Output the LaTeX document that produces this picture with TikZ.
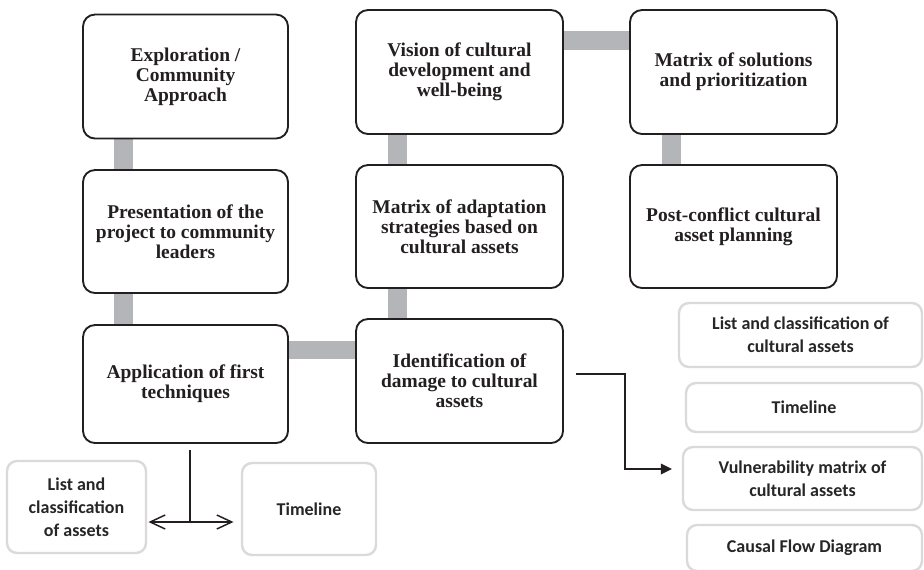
\documentclass[tikz,border=0pt]{standalone}
\usepackage{fontspec}
\newfontfamily\stagefont{Liberation Serif}[BoldFont={Liberation Serif Bold}]
\newfontfamily\toolfont{Carlito}
\usepackage{xcolor}
\usetikzlibrary{calc,backgrounds}
\definecolor{barGrey}{RGB}{180,181,184}
\definecolor{toolGrey}{RGB}{218,218,218}
\definecolor{inkBlack}{RGB}{35,31,32}

\begin{document}
\begin{tikzpicture}[x=0.75pt,y=0.75pt,yscale=-1,xscale=1,
  stagebox/.style={draw=inkBlack, line width=1.4pt, rounded corners=9pt, fill=white,
    align=center, text=inkBlack, font=\stagefont\fontsize{14.6}{15}\selectfont\bfseries,
    minimum width=153.75pt, minimum height=93pt, inner sep=2pt},
  toolbox/.style={draw=toolGrey, line width=1.8pt, rounded corners=7.5pt, fill=white,
    align=center, text=black!85, font=\toolfont\fontsize{13.5}{17.3}\selectfont\bfseries, inner sep=2pt},
  link/.style={draw=barGrey, line width=14pt},
  flow/.style={draw=inkBlack, line width=1.1pt}]

\clip (0,0) rectangle (924,569);

% stages
\node[stagebox] (expl) at (185.5,76.5) {Exploration /\\Community\\Approach};
\node[stagebox, minimum height=92.25pt] (pres) at (185.5,231.5) {Presentation of the\\project to community\\leaders};
\node[stagebox, minimum height=88.5pt] (appl) at (185.5,384) {Application of first\\techniques};
\node[stagebox, minimum width=155.25pt] (vision) at (459.5,72) {Vision of cultural\\development and\\well-being};
\node[stagebox, minimum width=155.25pt, minimum height=92.25pt] (adapt) at (459.5,226.5) {Matrix of adaptation\\strategies based on\\cultural assets};
\node[stagebox, minimum width=155.25pt] (ident) at (459.5,381) {Identification of\\damage to cultural\\assets};
\node[stagebox, minimum width=155.25pt] (solut) at (733.5,72) {Matrix of solutions\\and prioritization};
\node[stagebox, minimum width=155.25pt, minimum height=92.25pt] (post) at (733.5,226.5) {Post-conflict cultural\\asset planning};

% tools
\node[toolbox, minimum width=104.25pt, minimum height=69pt] (leftlist) at (76.5,507) {List and\\classification\\of assets};
\node[toolbox, minimum width=100.5pt, minimum height=69pt] (lefttime) at (309,509) {Timeline};
\node[toolbox, minimum width=182.25pt, minimum height=48pt] (rlist) at (800.5,335) {List and classification of\\cultural assets};
\node[toolbox, minimum width=177pt, minimum height=36.75pt] (rtime) at (804,407.5) {Timeline};
\node[toolbox, minimum width=179.25pt, minimum height=47.25pt] (rvuln) at (802.5,478.5) {Vulnerability matrix of\\cultural assets};
\node[toolbox, minimum width=176.25pt, minimum height=34.5pt] (rcausal) at (804.5,548) {Causal Flow Diagram};

% grey links
\begin{scope}[on background layer]
\draw[link] ($(expl.south west)+(41.5,0)$) -- ($(pres.north west)+(41.5,0)$);
\draw[link] ($(pres.south west)+(41.5,0)$) -- ($(appl.north west)+(41.5,0)$);
\draw[link] ($(appl.north east)+(0,26)$) -- ($(ident.north west)+(0,32)$);
\draw[link] ($(ident.north west)+(42.5,0)$) -- ($(adapt.south west)+(42.5,0)$);
\draw[link] ($(adapt.north west)+(42.5,0)$) -- ($(vision.south west)+(42.5,0)$);
\draw[link] ($(vision.north east)+(0,31.5)$) -- ($(solut.north west)+(0,31.5)$);
\draw[link] ($(solut.south west)+(42.5,0)$) -- ($(post.north west)+(42.5,0)$);
\end{scope}

% arrows
\coordinate (idout) at ($(ident.east)+(12,-7)$);
\coordinate (vulnin) at ($(rvuln.west)+(-10,-9.5)$);
\draw[flow] (idout) -- ++(49,0) |- ($(vulnin)+(-8,0)$);
\fill[inkBlack, shift={(vulnin)}] (0,0) -- (-11,-5.5) -- (-11,5.5) -- cycle;

\coordinate (apout) at ($(appl.south)+(4.5,6)$);
\coordinate (listin) at ($(leftlist.east)+(3,15)$);
\coordinate (timein) at ($(lefttime.west)+(-9,13)$);
\draw[flow] (apout) -- (apout |- listin) -- (listin);
\draw[flow] (apout |- timein) -- (timein);
\draw[flow, line join=miter, shift={(listin)}] (15,-7) -- (0,0) -- (15,7);
\draw[flow, line join=miter, shift={(timein)}, rotate=180] (15,-7) -- (0,0) -- (15,7);

\end{tikzpicture}
\end{document}
